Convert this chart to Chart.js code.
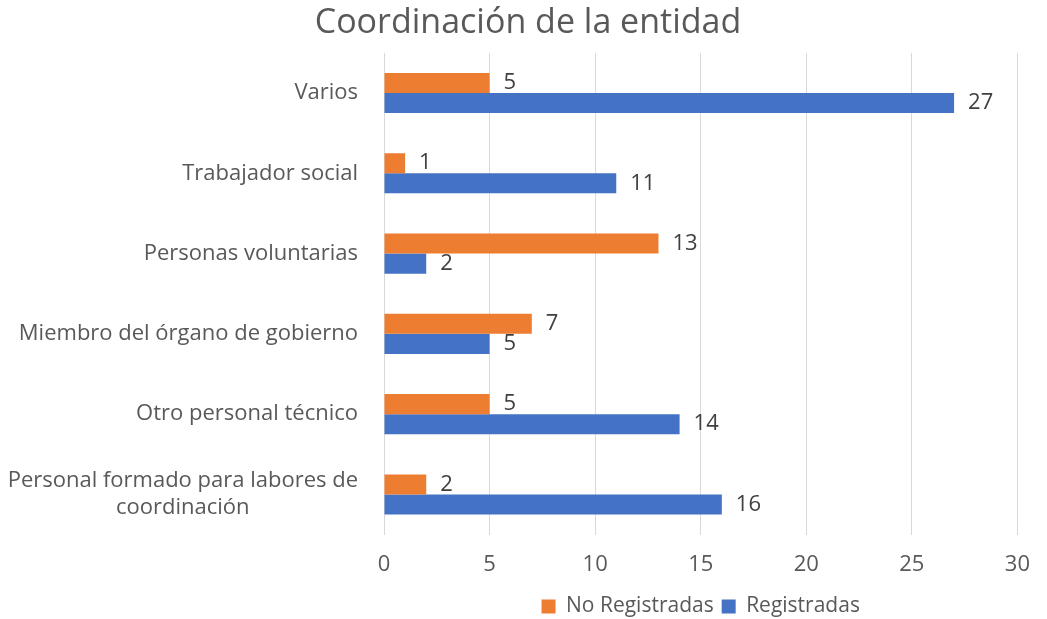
<!DOCTYPE html>
<html>
<head>
<meta charset="utf-8">
<script src="https://cdn.jsdelivr.net/npm/chart.js@4.4.1/dist/chart.umd.min.js"></script>
<style>
  body { margin: 0; background: #fff; }
  #wrap { width: 1047px; height: 619px; }
</style>
</head>
<body>
<div id="wrap"><canvas id="chart" width="1047" height="619"></canvas></div>
<script>
const categories = [
    ["Varios"],
    ["Trabajador social"],
    ["Personas voluntarias"],
    ["Miembro del órgano de gobierno"],
    ["Otro personal técnico"],
    ["Personal formado para labores de", "coordinación"]
];
const noRegistradas = [5, 1, 13, 7, 5, 2];
const registradas = [27, 11, 2, 5, 14, 16];
const xTicks = [0, 5, 10, 15, 20, 25, 30];

const fontName = "'Open Sans', 'Noto Sans', sans-serif";
const textGray = '#595959';

// value labels next to the end of each bar
const valueLabels = {
    id: 'valueLabels',
    afterDatasetsDraw(chart) {
        const ctx = chart.ctx;
        ctx.save();
        ctx.font = '22px ' + fontName;
        ctx.fillStyle = '#404040';
        ctx.textAlign = 'left';
        ctx.textBaseline = 'middle';
        chart.data.datasets.forEach((ds, i) => {
            chart.getDatasetMeta(i).data.forEach((bar, j) => {
                ctx.fillText(ds.data[j], bar.x + 14, bar.y);
            });
        });
        ctx.restore();
    }
};

// category labels: block right aligned, lines centred inside the block (like Excel)
const catLabels = {
    id: 'catLabels',
    afterDraw(chart) {
        const ctx = chart.ctx;
        const y = chart.scales.y;
        const right = chart.chartArea.left - 26;
        const lh = 27;
        ctx.save();
        ctx.font = '22px ' + fontName;
        ctx.fillStyle = textGray;
        ctx.textAlign = 'center';
        ctx.textBaseline = 'middle';
        categories.forEach((lines, i) => {
            const w = Math.max(...lines.map(l => ctx.measureText(l).width));
            const cy = y.getPixelForValue(i);
            const top = cy - (lines.length - 1) * lh / 2;
            lines.forEach((l, k) => {
                ctx.fillText(l, right - w / 2, top + k * lh);
            });
        });
        ctx.restore();
    }
};

const chart = new Chart(document.getElementById('chart'), {
    type: 'bar',
    data: {
        labels: categories.map(c => c.join(' ')),
        datasets: [{
            label: 'No Registradas',
            data: noRegistradas,
            backgroundColor: '#ED7D31',
            categoryPercentage: 0.5,
            barPercentage: 1
        }, {
            label: 'Registradas',
            data: registradas,
            backgroundColor: '#4472C4',
            categoryPercentage: 0.5,
            barPercentage: 1
        }]
    },
    options: {
        indexAxis: 'y',
        responsive: false,
        animation: false,
        layout: { padding: { left: 10, right: 1, top: 0, bottom: -8 } },
        scales: {
            x: {
                min: 0,
                max: 30,
                afterBuildTicks: s => { s.ticks = xTicks.map(v => ({ value: v })); },
                afterFit: s => { s.height -= 7; },
                grid: { color: '#D9D9D9', drawTicks: false },
                border: { display: false },
                ticks: {
                    padding: 17,
                    color: textGray,
                    font: { family: fontName, size: 22 }
                }
            },
            y: {
                grid: { display: false },
                border: { display: false },
                ticks: { display: false },
                afterFit: s => { s.width = 374; }
            }
        },
        plugins: {
            title: {
                display: true,
                text: 'Coordinación de la entidad',
                color: textGray,
                font: { family: fontName, size: 34, weight: 'normal' },
                padding: { top: 3, bottom: 9 }
            },
            legend: {
                position: 'bottom',
                fullSize: false,
                labels: {
                    boxWidth: 14,
                    boxHeight: 14,
                    padding: 8,
                    color: textGray,
                    font: { family: fontName, size: 21 }
                }
            },
            tooltip: { enabled: false }
        }
    },
    plugins: [valueLabels, catLabels]
});
</script>
</body>
</html>
